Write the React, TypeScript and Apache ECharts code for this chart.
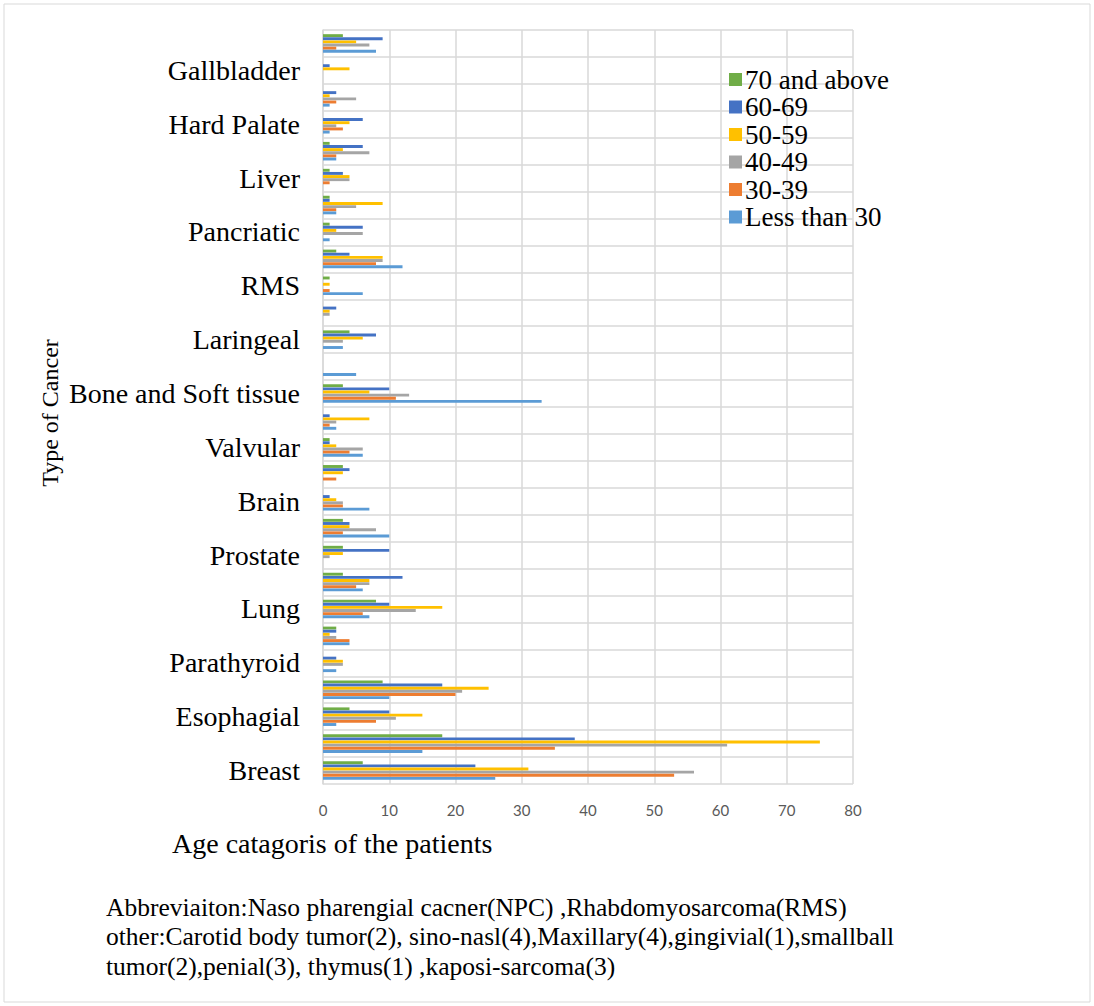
import React, { useEffect, useRef } from "react";
import * as echarts from "echarts";

const categories = [
  "Breast", "Cervical", "Esophagial", "Colorectal", "Parathyroid", "Thyroid",
  "Lung", "Gastric", "Prostate", "Ovarian", "Brain", "Kidney", "Valvular", "Skin",
  "Bone and Soft tissue", "Retinoblastoma", "Laringeal", "Bladder", "RMS", "NPC",
  "Pancriatic", "Leukemia", "Liver", "Lymphoma", "Hard Palate", "Oral", "Gallbladder", "Other",
];

const seriesNames = ["70 and above", "60-69", "50-59", "40-49", "30-39", "Less than 30"];
const seriesColors = ["#70AD47", "#4472C4", "#FFC000", "#A5A5A5", "#ED7D31", "#5B9BD5"];

const age70plus = [6, 18, 4, 9, 0, 2, 8, 3, 3, 3, 0, 3, 1, 0, 3, 0, 4, 0, 1, 2, 1, 1, 1, 1, 0, 0, 0, 3];
const age60to69 = [23, 38, 10, 18, 2, 2, 10, 12, 10, 4, 1, 4, 1, 1, 10, 0, 8, 2, 0, 4, 6, 1, 3, 6, 6, 2, 1, 9];
const age50to59 = [31, 75, 15, 25, 3, 1, 18, 7, 3, 4, 2, 3, 2, 7, 7, 0, 6, 1, 1, 9, 2, 9, 4, 3, 4, 1, 4, 5];
const age40to49 = [56, 61, 11, 21, 3, 2, 14, 7, 1, 8, 3, 0, 6, 2, 13, 0, 3, 1, 0, 9, 6, 5, 4, 7, 2, 5, 0, 7];
const age30to39 = [53, 35, 8, 20, 0, 4, 6, 5, 0, 3, 3, 2, 4, 1, 11, 0, 0, 0, 1, 8, 0, 2, 1, 2, 3, 2, 0, 2];
const ageUnder30 = [26, 15, 2, 10, 2, 4, 7, 6, 0, 10, 7, 0, 6, 2, 33, 5, 3, 0, 6, 12, 1, 2, 0, 2, 1, 1, 0, 8];

const seriesValues = [age70plus, age60to69, age50to59, age40to49, age30to39, ageUnder30];

const footnoteLines = [
  "Abbreviaiton:Naso pharengial cacner(NPC) ,Rhabdomyosarcoma(RMS)",
  "other:Carotid body tumor(2), sino-nasl(4),Maxillary(4),gingivial(1),smallball",
  "tumor(2),penial(3), thymus(1) ,kaposi-sarcoma(3)",
];

const SERIF = "'Liberation Serif', 'Times New Roman', serif";

export default function App() {
  const ref = useRef<HTMLDivElement>(null);
  useEffect(() => {
    document.body.style.margin = "0";
    const chart = echarts.init(ref.current!, null, { renderer: "svg" });
    const option: any = {
      animation: false,
      backgroundColor: "#ffffff",
      grid: { left: 323, top: 30, width: 530, height: 754, containLabel: false },
      legend: {
        data: seriesNames,
        orient: "vertical",
        left: 724,
        top: 61,
        itemWidth: 13,
        itemHeight: 13,
        itemGap: 0.5,
        icon: "rect",
        textStyle: { fontFamily: SERIF, fontSize: 27, lineHeight: 27, color: "#000", padding: [0, 0, 0, -2] },
      },
      xAxis: {
        type: "value",
        min: 0,
        max: 80,
        interval: 10,
        axisLine: { show: false },
        axisTick: { show: false },
        axisLabel: { fontSize: 15, color: "#595959", fontFamily: "Lato, 'Open Sans', sans-serif", margin: 18 },
        splitLine: { show: true, lineStyle: { color: "#d9d9d9", width: 1.5 } },
      },
      yAxis: {
        type: "category",
        data: categories,
        axisLine: { show: true, lineStyle: { color: "#d9d9d9", width: 1.5 } },
        axisTick: { show: false },
        axisLabel: { interval: 1, fontSize: 28, fontFamily: SERIF, color: "#000", margin: 23 },
        splitLine: { show: true, interval: 0, lineStyle: { color: "#d9d9d9", width: 1.5 } },
      },
      series: seriesNames.map((name, i) => ({
        name,
        type: "bar",
        data: seriesValues[i],
        barWidth: 2.9,
        barGap: "8%",
        itemStyle: { color: seriesColors[i] },
      })),
      graphic: [
        {
          type: "rect",
          shape: { x: 4, y: 4, width: 1086, height: 998 },
          style: { fill: "none", stroke: "#d9d9d9", lineWidth: 1 },
          silent: true,
        },
        {
          type: "text",
          x: 50,
          y: 413,
          rotation: Math.PI / 2,
          style: {
            text: "Type of Cancer",
            font: `24px ${SERIF}`,
            fill: "#000",
            textAlign: "center",
            textVerticalAlign: "middle",
          },
        },
        {
          type: "text",
          x: 172,
          y: 843,
          style: {
            text: "Age catagoris of the patients",
            font: `28px ${SERIF}`,
            fill: "#000",
            textAlign: "left",
            textVerticalAlign: "middle",
          },
        },
        ...footnoteLines.map((line, i) => ({
          type: "text",
          x: 106,
          y: 907 + i * 29.5,
          style: {
            text: line,
            font: `25.5px ${SERIF}`,
            fill: "#000",
            textAlign: "left",
            textVerticalAlign: "middle",
          },
        })),
      ],
    };
    chart.setOption(option);
    return () => chart.dispose();
  }, []);
  return <div ref={ref} style={{ position: "absolute", left: 0, top: 0, width: 1094, height: 1006 }} />;
}
